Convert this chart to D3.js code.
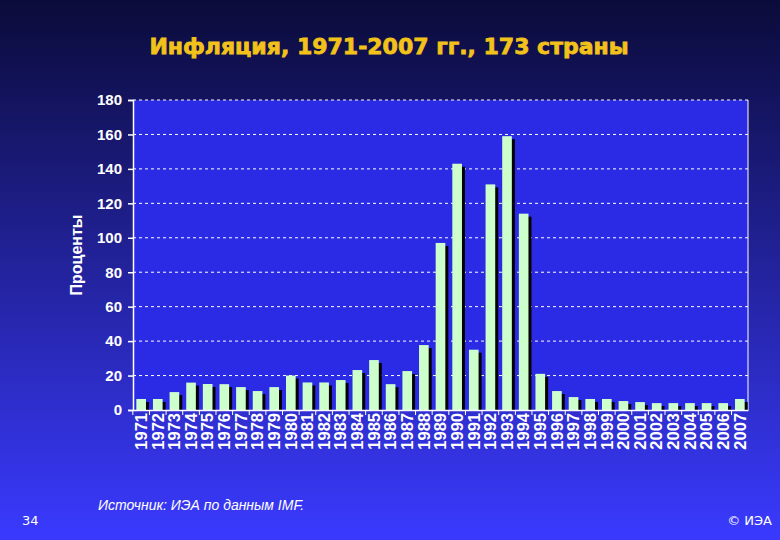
<!DOCTYPE html>
<html><head><meta charset="utf-8">
<script src="https://cdn.jsdelivr.net/npm/d3@7"></script>
<style>body{margin:0;}</style></head>
<body><div id="app"></div>
<script>
var years = d3.range(1971, 2008).map(String);
var inflation = [6.4,6.4,10.4,15.9,15.1,15,13.3,11,13.3,20,16,16,17.4,23.2,29,15,22.6,37.7,97,143,35,131,159,114,21,11,7.5,6.4,6.4,5.2,4.6,4,4,4,4,4,6.4];
var yTicks = [0,20,40,60,80,100,120,140,160,180];
var W = 780, H = 540;
var m = {l:133, r:748, t:100, b:410};
var svg = d3.select("#app").append("svg").attr("width",W).attr("height",H);
var defs = svg.append("defs");
var g = defs.append("linearGradient").attr("id","bg").attr("x1",0).attr("y1",0).attr("x2",0).attr("y2",1);
g.append("stop").attr("offset","0%").attr("stop-color","#0b0b3a");
g.append("stop").attr("offset","100%").attr("stop-color","#3a3aff");
svg.append("rect").attr("width",W).attr("height",H).attr("fill","url(#bg)");
svg.append("rect").attr("x",m.l).attr("y",m.t).attr("width",m.r-m.l).attr("height",m.b-m.t).attr("fill","#2b2be6");
var x = d3.scaleBand().domain(years).range([m.l,m.r]).paddingInner(0.42).paddingOuter(0.2);
var y = d3.scaleLinear().domain([0,180]).range([m.b,m.t]);
svg.append("g").selectAll("line").data(yTicks.slice(1)).join("line")
  .attr("x1",m.l).attr("x2",m.r).attr("y1",d=>y(d)).attr("y2",d=>y(d))
  .attr("stroke","#fff").attr("stroke-dasharray","3,3");
svg.append("line").attr("x1",m.r).attr("x2",m.r).attr("y1",m.t).attr("y2",m.b).attr("stroke","#fff");
var bars = svg.append("g");
bars.selectAll(".sh").data(inflation).join("rect")
  .attr("x",(d,i)=>x(years[i])+3).attr("y",d=>y(d)+3).attr("width",x.bandwidth()).attr("height",d=>m.b-y(d)-3).attr("fill","#000");
bars.selectAll(".b").data(inflation).join("rect")
  .attr("x",(d,i)=>x(years[i])).attr("y",d=>y(d)).attr("width",x.bandwidth()).attr("height",d=>m.b-y(d)).attr("fill","#ccffcc");
var ya = svg.append("g").attr("transform","translate("+m.l+",0)")
  .call(d3.axisLeft(y).tickValues(yTicks).tickSize(5).tickPadding(6));
var xa = svg.append("g").attr("transform","translate(0,"+m.b+")")
  .call(d3.axisBottom(x).tickSize(0).tickPadding(0));
[ya,xa].forEach(a=>{a.selectAll("path,line").attr("stroke","#fff").attr("stroke-width",1.5);
  a.selectAll("text").attr("fill","#fff").style("font","bold 15px 'Liberation Sans',Arial,sans-serif");});
xa.selectAll("text").style("font-size","16.5px").attr("transform","rotate(-90)").attr("text-anchor","end").attr("dx","-3").attr("dy","0.35em").attr("x",0).attr("y",0);
svg.append("g").selectAll("line").data(years).join("line")
  .attr("x1",d=>x(d)-x.step()*x.paddingInner()/2).attr("x2",d=>x(d)-x.step()*x.paddingInner()/2)
  .attr("y1",m.b).attr("y2",m.b+5).attr("stroke","#fff");
svg.append("text").attr("x",389).attr("y",54).attr("text-anchor","middle").attr("fill","#f2c21a")
  .attr("stroke","#f2c21a").attr("stroke-width",0.8)
  .style("font","bold 22px 'DejaVu Sans',Verdana,sans-serif").text("Инфляция, 1971-2007 гг., 173 страны");
svg.append("text").attr("transform","translate(82,255) rotate(-90)").attr("text-anchor","middle").attr("fill","#fff")
  .style("font","bold 16px 'Liberation Sans',Arial,sans-serif").text("Проценты");
svg.append("text").attr("x",98).attr("y",510).attr("fill","#fff")
  .style("font","italic 14px 'Liberation Sans',Arial,sans-serif").text("Источник: ИЭА по данным IMF.");
svg.append("text").attr("x",22).attr("y",525).attr("fill","#fff")
  .style("font","13px 'DejaVu Sans',sans-serif").text("34");
svg.append("text").attr("x",772).attr("y",525).attr("text-anchor","end").attr("fill","#fff")
  .style("font","13px 'DejaVu Sans',sans-serif").text("© ИЭА");
</script></body></html>
